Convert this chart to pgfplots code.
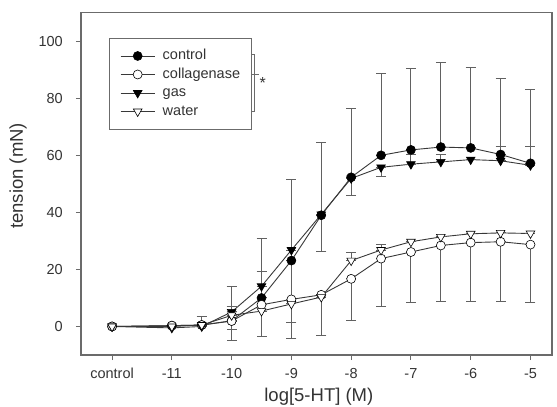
\documentclass[border=0pt]{standalone}
\usepackage{fontspec}
\setmainfont{Liberation Sans}
\usepackage{pgfplots}
\pgfplotsset{compat=1.18}
\usepackage{pgfplotstable}

\definecolor{txt}{gray}{0.2}
\definecolor{frm}{gray}{0.42}
\definecolor{ln}{gray}{0.22}
\definecolor{eb}{gray}{0.38}

% x  y  ep (up)  em (down)
\pgfplotstableread{
x y ep em
-12 0 0 0
-11 0.3 0 0
-10.5 0.5 3.1 0
-10 2.0 12.1 0
-9.5 10.0 20.7 0
-9 23.1 28.4 0
-8.5 39.0 25.6 0
-8 52.3 24.0 0
-7.5 60.0 28.7 0
-7 61.9 28.4 0
-6.5 62.9 29.5 0
-6 62.6 28.3 0
-5.5 60.3 26.6 0
-5 57.2 25.9 0
}\ctrl
\pgfplotstableread{
x y ep em
-12 0 0 0
-11 0.3 0 0
-10.5 0.5 0 0
-10 1.9 0 6.9
-9.5 7.6 0 11.0
-9 9.5 0 13.7
-8.5 11.1 0 14.4
-8 16.7 0 14.5
-7.5 23.8 0 16.9
-7 26.1 0 17.8
-6.5 28.4 0 19.5
-6 29.4 0 20.5
-5.5 29.7 0 20.8
-5 28.7 0 20.4
}\coll
\pgfplotstableread{
x y ep em
-12 0 0 0
-11 -0.5 0 0
-10.5 0 0 0
-10 5.1 0 6.2
-9.5 14.1 5.3 0
-9 26.8 0 25.3
-8.5 39.3 0 12.9
-8 51.9 0 5.9
-7.5 55.8 0 3.1
-7 56.9 3.4 0
-6.5 57.7 2.6 0
-6 58.5 0 0
-5.5 58.1 5.0 0
-5 56.5 6.7 0
}\gas
\pgfplotstableread{
x y ep em
-12 0 0 0
-11 0 0 0
-10.5 0.5 0 0
-10 3.9 3.2 0
-9.5 5.4 0 0
-9 7.9 0 0
-8.5 10.3 0 0
-8 23.1 2.7 0
-7.5 26.8 1.8 0
-7 29.7 0 0
-6.5 31.4 0 0
-6 32.5 0 0
-5.5 32.8 0 0
-5 32.6 0 0
}\water

\begin{document}
\begin{tikzpicture}
\begin{axis}[
  scale only axis, width=471pt, height=342.3pt,
  xmin=-12.52, xmax=-4.64, ymin=-10, ymax=110,
  axis line style={frm, line width=1.1pt},
  xtick pos=bottom, ytick pos=left,
  tick align=outside, major tick length=5pt,
  tick style={frm, line width=1pt},
  xtick={-12,-11,-10,-9,-8,-7,-6,-5},
  xticklabels={control,-11,-10,-9,-8,-7,-6,-5},
  ytick={0,20,40,60,80,100},
  /pgf/number format/assume math mode=true,
  tick label style={font=\fontsize{14.5}{17}\selectfont, text=txt},
  xticklabel style={anchor=base, yshift=-18.5pt},
  yticklabel style={anchor=east, inner sep=0pt, xshift=-13pt},
  every axis y label/.style={at={(axis description cs:-0.1146,0.523)}, rotate=90, anchor=south, inner sep=0pt},
  every axis x label/.style={at={(axis description cs:0.505,-0.1345)}, anchor=base, inner sep=0pt},
  label style={font=\fontsize{18.5}{22}\selectfont, text=txt},
  xlabel={log[5-HT] (M)},
  ylabel={tension (mN)},
  legend cell align=left,
  legend image code/.code={\draw[mark repeat=2,mark phase=2,#1] plot coordinates {(0pt,0pt) (17pt,0pt) (34pt,0pt)};},
  legend style={at={(rel axis cs:0.059,0.927)}, anchor=north west,
    draw=frm, line width=0.9pt, inner xsep=11pt, inner ysep=8.6pt,
    column sep=7.6pt,
    font=\fontsize{14.5}{17}\selectfont, text=txt,
    nodes={inner xsep=0pt, inner ysep=2.5pt, text height=10.5pt, text depth=3pt}},
  every axis plot/.append style={ln, line width=0.9pt},
  error bars/y dir=both, error bars/y explicit,
  error bars/error bar style={eb, line width=0.9pt},
  error bars/error mark options={rotate=90, eb, mark size=5pt, line width=0.9pt},
]
\addplot[mark=*, mark size=4.5pt, mark options={fill=black, draw=black, line width=0.6pt}]
  table[x=x, y=y, y error plus=ep, y error minus=em] {\ctrl};
\addlegendentry{control}
\addplot[mark=*, mark size=4.5pt, mark options={fill=white, draw=black, line width=0.6pt}]
  table[x=x, y=y, y error plus=ep, y error minus=em] {\coll};
\addlegendentry{collagenase}
\addplot[mark=triangle*, mark size=5pt, mark options={rotate=180, fill=black, draw=black, line width=0.6pt}]
  table[x=x, y=y, y error plus=ep, y error minus=em] {\gas};
\addlegendentry{gas}
\addplot[mark=triangle*, mark size=5pt, mark options={rotate=180, fill=white, draw=black, line width=0.6pt}]
  table[x=x, y=y, y error plus=ep, y error minus=em] {\water};
\addlegendentry{water}

\draw[frm, line width=0.9pt] (rel axis cs:0.354,0.879) -- (rel axis cs:0.369,0.879) -- (rel axis cs:0.369,0.711) -- (rel axis cs:0.354,0.711);
\draw[frm, line width=0.9pt] (rel axis cs:0.354,0.820) -- (rel axis cs:0.377,0.820);
\node[text=txt, font=\fontsize{16}{18}\selectfont, inner sep=0pt] at (rel axis cs:0.386,0.795) {*};

\coordinate (ll) at (rel axis cs:0,0);
\coordinate (ur) at (rel axis cs:1,1);
\end{axis}
\pgfresetboundingbox
\path[use as bounding box] ([xshift=-81pt,yshift=-52pt]ll) rectangle ([xshift=5pt,yshift=12.7pt]ur);
\end{tikzpicture}
\end{document}
